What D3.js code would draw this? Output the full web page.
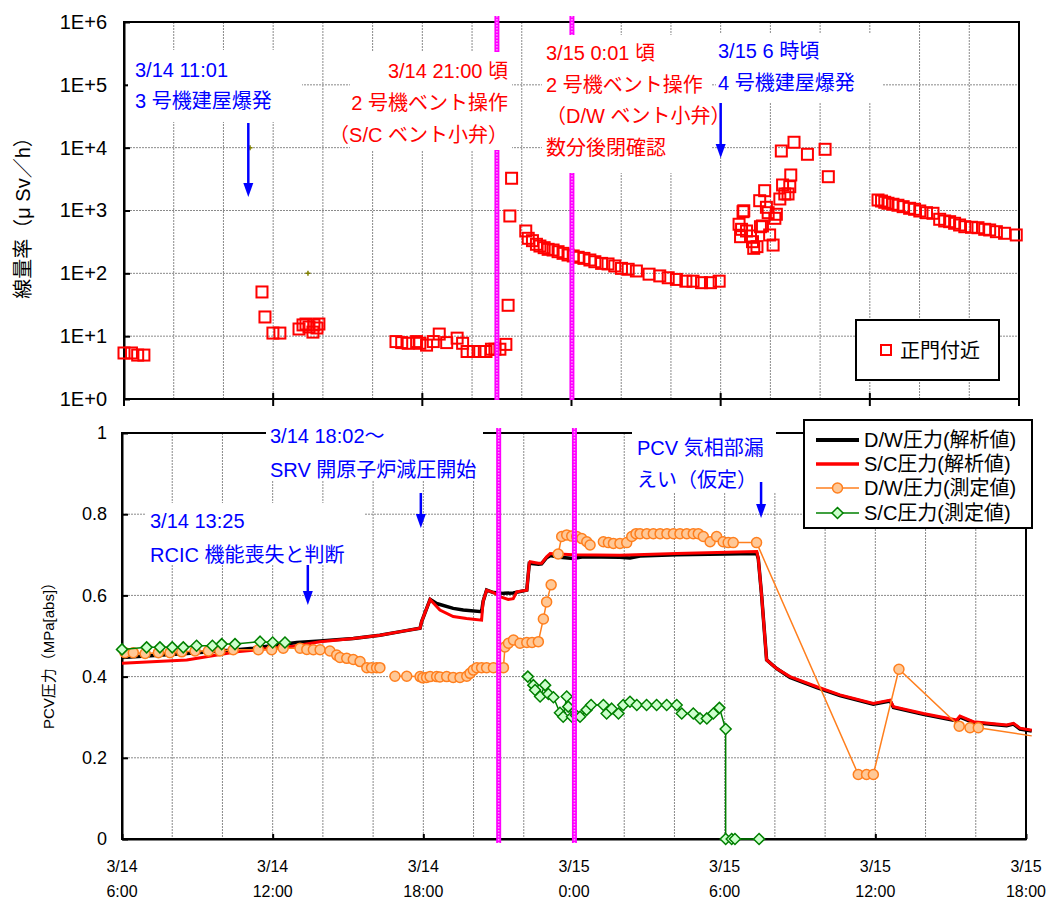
<!DOCTYPE html>
<html><head><meta charset="utf-8">
<script src="https://cdn.jsdelivr.net/npm/d3@7"></script>
<style>body{margin:0;background:#fff}svg{display:block}text{font-family:"Liberation Sans","Noto Sans CJK JP",sans-serif}</style>
</head><body><svg id="c" width="1050" height="900"></svg>
<script>
// ---------- DATA (time = hours since 3/14 0:00) ----------
const tickHours = [6, 12, 18, 24, 30, 36, 42];
const xTickDates = ["3/14", "3/14", "3/14", "3/15", "3/15", "3/15", "3/15"];
const xTickTimes = ["6:00", "12:00", "18:00", "0:00", "6:00", "12:00", "18:00"];
const doseTicks = [1, 10, 100, 1000, 1e4, 1e5, 1e6];
const doseTickLabels = ["1E+0", "1E+1", "1E+2", "1E+3", "1E+4", "1E+5", "1E+6"];
const pressTicks = [0, 0.2, 0.4, 0.6, 0.8, 1];
const pressTickLabels = ["0", "0.2", "0.4", "0.6", "0.8", "1"];

// 正門付近 dose rate (μSv/h)
const doseTimes = [6.0, 6.3, 6.55, 6.8, 11.55, 11.67, 11.99, 12.27,
  13.04, 13.2, 13.32, 13.44, 13.6, 13.64, 13.76, 13.84,
  16.94, 17.17, 17.43, 17.77, 17.9, 18.17, 18.44, 18.68, 18.98, 19.4, 19.62, 19.8, 20.05, 20.31, 20.56, 20.78, 20.92, 21.12, 21.36,
  21.45, 21.52, 21.59,
  22.16, 22.26, 22.43, 22.59, 22.73, 22.9, 23.06, 23.26, 23.46, 23.66, 23.86, 24.07, 24.27, 24.5, 24.74, 24.94, 25.21, 25.47, 25.74, 26.01, 26.28, 26.61, 27.12, 27.55, 27.89, 28.22, 28.6, 28.89, 29.23, 29.59, 29.94,
  30.74, 30.9, 30.93, 30.84, 30.8, 31.04, 31.2, 31.28, 31.33, 31.46, 31.6, 31.68, 31.57, 31.77, 31.84, 31.91, 31.97, 32.11, 32.18, 32.24, 32.38, 32.49, 32.58, 32.71, 32.78, 32.82, 32.44, 32.95, 33.49, 34.2, 34.33,
  36.33, 36.47, 36.6, 36.73, 36.93, 37.13, 37.34, 37.6, 37.8, 38.01, 38.28, 38.54, 38.81, 39.01, 39.21, 39.41, 39.61, 39.82, 40.09, 40.35, 40.62, 40.82, 41.09, 41.42, 41.89];
const doseValues = [5.4, 5.4, 5.0, 5.0, 50.5, 20.2, 11.2, 11.2,
  13.0, 15.1, 15.6, 14.0, 11.6, 15.1, 13.5, 15.6,
  8.2, 7.9, 7.7, 8.2, 7.7, 7.2, 8.2, 10.8, 7.9, 9.3, 7.7, 5.7, 5.7, 5.7, 5.7, 6.2, 6.2, 6.2, 7.4,
  31, 818, 3260,
  472, 361, 331, 290, 272, 256, 241, 235, 221, 208, 196, 189, 180, 173, 163, 153, 144, 141, 131, 120, 116, 109, 97, 91, 85, 80, 75, 75, 71, 71, 75,
  604, 957, 990, 502, 383, 472, 393, 319, 250, 266, 552, 567, 1432, 2066, 1125, 923, 408, 282, 751, 871, 1525, 2547, 1833, 1833, 2393, 3675, 8850, 12190, 7850, 9420, 3450,
  1469, 1416, 1351, 1303, 1257, 1212, 1151, 1084, 1045, 982, 923, 903, 725, 681, 664, 626, 588, 552, 541, 532, 502, 490, 460, 434, 408];
// small extra markers in the upper chart
const otherTimes = [11.07, 13.4];
const otherValues = [1e4, 100];

// D/W 圧力 (解析値)
const dwCalcTimes = [6, 8.58, 10.57, 11.23, 12.96, 13.89, 15.21, 16.27, 17.2, 17.87, 17.93, 18.27, 18.53, 19.19, 19.59, 20.32, 20.38, 20.52, 20.79, 21.19, 21.58, 22.12, 22.22, 22.58, 22.71, 22.91, 23.05, 23.44, 23.97, 24.37, 25.83, 26.23, 26.63, 28.09, 31.28, 31.34, 31.47, 31.67, 32.07, 32.6, 33.67, 34.59, 35.92, 36.59, 36.72, 37.91, 39.24, 39.37, 39.9, 41.23, 41.5, 41.76, 42.23];
const dwCalcValues = [0.447, 0.457, 0.466, 0.47, 0.484, 0.488, 0.494, 0.502, 0.512, 0.519, 0.535, 0.590, 0.580, 0.568, 0.564, 0.560, 0.585, 0.613, 0.607, 0.605, 0.606, 0.613, 0.679, 0.677, 0.678, 0.693, 0.698, 0.694, 0.691, 0.695, 0.694, 0.692, 0.697, 0.700, 0.703, 0.69, 0.601, 0.441, 0.42, 0.398, 0.373, 0.353, 0.332, 0.34, 0.324, 0.307, 0.291, 0.3, 0.287, 0.279, 0.283, 0.271, 0.266];
// S/C 圧力 (解析値)
const scCalcTimes = [6, 8.58, 10.57, 12.82, 13.89, 15.21, 16.27, 17.2, 17.87, 17.93, 18.27, 18.66, 19.19, 19.72, 20.32, 20.38, 20.52, 20.79, 21.05, 21.38, 21.58, 21.72, 22.12, 22.22, 22.25, 22.58, 22.71, 22.91, 23.05, 23.97, 25.83, 28.09, 31.28, 31.34, 31.47, 31.67, 32.07, 32.6, 33.67, 34.59, 35.92, 36.59, 36.72, 37.91, 39.24, 39.37, 39.9, 41.23, 41.5, 41.76, 42.23];
const scCalcValues = [0.433, 0.441, 0.461, 0.475, 0.486, 0.494, 0.502, 0.512, 0.519, 0.535, 0.590, 0.564, 0.548, 0.543, 0.539, 0.585, 0.613, 0.607, 0.597, 0.59, 0.592, 0.609, 0.613, 0.679, 0.683, 0.679, 0.679, 0.695, 0.703, 0.700, 0.699, 0.703, 0.708, 0.69, 0.601, 0.441, 0.42, 0.4, 0.375, 0.355, 0.334, 0.342, 0.326, 0.309, 0.293, 0.303, 0.289, 0.281, 0.285, 0.273, 0.268];
// D/W 圧力 (測定値)  (null = break in line)
const dwMeasTimes = [6.12, 6.45, 6.92, 7.45, 7.91, 8.38, 8.91, 9.44, 9.9, 10.43, 11.43, 11.96, 12.42, 13.09, 13.36, 13.62, 13.89, 14.28, 14.55, 14.68, 14.95, 15.21, 15.48, 15.75, 15.94, 16.14, 16.27, null,
  16.87, 17.34, 17.87, 17.98, 18.13, 18.27, 18.53, 18.66, 18.93, 19.19, 19.46, 19.73, 19.86, 19.99, 20.13, 20.32, 20.52, 20.79, 21.19, 21.25, 21.39, 21.59, 21.85, 22.12, 22.33, 22.58, 22.78, 22.91, 23.09, null,
  23.37, 23.51, 23.71, 23.91, 24.11, 24.31, 24.51, 24.64, null,
  25.17, 25.37, 25.57, 25.83, 26.1, 26.3, 26.47, 26.63, 26.9, 27.16, 27.43, 27.7, 27.96, 28.22, 28.49, 28.75, 28.95, 29.15, 29.42, 29.68, 29.94, 30.14, 30.34, 31.27, 35.32, 35.65, 35.92, 36.94, 39.34, 39.77, 40.1, 42.23];
const dwMeasValues = [0.459, 0.459, 0.457, 0.459, 0.459, 0.461, 0.463, 0.463, 0.463, 0.466, 0.466, 0.466, 0.47, 0.47, 0.467, 0.466, 0.466, 0.463, 0.453, 0.447, 0.445, 0.442, 0.437, 0.422, 0.422, 0.422, 0.422, null,
  0.401, 0.401, 0.4, 0.397, 0.398, 0.400, 0.400, 0.399, 0.400, 0.398, 0.398, 0.401, 0.408, 0.416, 0.422, 0.422, 0.422, 0.422, 0.422, 0.473, 0.482, 0.49, 0.482, 0.484, 0.484, 0.486, 0.542, 0.584, 0.626, null,
  0.702, 0.745, 0.749, 0.746, 0.745, 0.74, 0.732, 0.724, null,
  0.732, 0.73, 0.728, 0.728, 0.73, 0.745, 0.752, 0.752, 0.752, 0.752, 0.752, 0.752, 0.752, 0.752, 0.752, 0.752, 0.752, 0.745, 0.732, 0.745, 0.732, 0.73, 0.73, 0.73, 0.159, 0.159, 0.159, 0.418, 0.278, 0.274, 0.274, 0.254];
// S/C 圧力 (測定値)
const scMeasTimes = [6.0, 6.98, 7.51, 8.0, 8.44, 8.97, 9.6, 9.97, 10.5, 11.5, 12.0, 12.49, null,
  22.16, 22.38, 22.45, 22.65, 22.85, 22.98, 23.18, 23.44, 23.57, 23.71, 23.77, 23.92, 24.08, 24.24, 24.5, 24.68, 25.17, 25.3, 25.5, 25.77, 25.96, 26.23, 26.5, 26.89, 27.29, 27.69, 28.09, 28.29, 28.75, 29.02, 29.29, 29.55, 29.79, 30.04, 30.04, 30.28, 30.41, 31.37];
const scMeasValues = [0.467, 0.472, 0.472, 0.472, 0.472, 0.476, 0.476, 0.480, 0.480, 0.486, 0.484, 0.484, null,
  0.4, 0.379, 0.367, 0.351, 0.379, 0.357, 0.349, 0.311, 0.301, 0.351, 0.326, 0.301, 0.305, 0.301, 0.318, 0.33, 0.33, 0.309, 0.321, 0.309, 0.33, 0.338, 0.33, 0.33, 0.33, 0.33, 0.33, 0.309, 0.309, 0.297, 0.297, 0.309, 0.323, 0.271, 0, 0, 0, 0];

// events
const ventTimes = [21.0, 24.017];
const topArrowTimes = [11.0, 30.0];
const bottomArrowTimes = [17.9, 13.4, 31.45];
const legendNames = ["D/W圧力(解析値)", "S/C圧力(解析値)", "D/W圧力(測定値)", "S/C圧力(測定値)"];

// ---------- DRAW ----------
const svg = d3.select("#c");
const xT = d3.scaleLinear().domain([6, 42]).range([124, 1019]);
const yT = d3.scaleLog().domain([1, 1e6]).range([399, 22]);
const xB = d3.scaleLinear().domain([6, 42]).range([122, 1026]);
const yB = d3.scaleLinear().domain([0, 1]).range([839, 433]);
const zip = (ts, vs) => ts.map((t, i) => ({t, v: vs[i]}));
const GRID = "#8a8a8a", BLUE = "#0000ff", RED = "#ff0000", ORANGE = "#ff7f1e", GREEN = "#008000";

const gridHours = d3.range(8, 42, 2);
function vgrid(x, y0, y1) {
  svg.append("g").selectAll("line").data(gridHours).join("line")
    .attr("x1", d => x(d)).attr("x2", d => x(d)).attr("y1", y0).attr("y2", y1)
    .attr("stroke", GRID).attr("stroke-width", 1).attr("stroke-dasharray", "2,1");
}
vgrid(xT, yT(1e6), yT(1));
vgrid(xB, yB(1), yB(0));
svg.append("g").selectAll("line").data(doseTicks.slice(1, -1)).join("line")
  .attr("x1", xT(6)).attr("x2", xT(42)).attr("y1", d => yT(d)).attr("y2", d => yT(d))
  .attr("stroke", GRID).attr("stroke-dasharray", "2,1");
svg.append("g").selectAll("line").data(pressTicks.slice(1, -1)).join("line")
  .attr("x1", xB(6)).attr("x2", xB(42)).attr("y1", d => yB(d)).attr("y2", d => yB(d))
  .attr("stroke", GRID).attr("stroke-dasharray", "2,1");

// borders
svg.append("rect").attr("x", xT(6)).attr("y", yT(1e6)).attr("width", xT(42) - xT(6)).attr("height", yT(1) - yT(1e6))
  .attr("fill", "none").attr("stroke", "#000").attr("stroke-width", 2);
svg.append("rect").attr("x", xB(6)).attr("y", yB(1)).attr("width", xB(42) - xB(6)).attr("height", yB(0) - yB(1))
  .attr("fill", "none").attr("stroke", "#000").attr("stroke-width", 2);

// top axes
const ayT = svg.append("g").attr("transform", `translate(${xT(6)},0)`)
  .call(d3.axisLeft(yT).tickValues(doseTicks).tickFormat((d, i) => doseTickLabels[i]).tickSizeInner(-6).tickSizeOuter(0).tickPadding(17));
ayT.select(".domain").attr("stroke-width", 2);
ayT.selectAll(".tick line").attr("stroke-width", 2);
ayT.selectAll("text").attr("font-size", 20).attr("fill", "#000").style("font-family", '"Liberation Sans",sans-serif');
svg.append("g").selectAll("line").data(tickHours).join("line")
  .attr("x1", d => xT(d)).attr("x2", d => xT(d)).attr("y1", yT(1) - 6).attr("y2", yT(1) + 7)
  .attr("stroke", "#000").attr("stroke-width", 2);

// bottom axes
const ayB = svg.append("g").attr("transform", `translate(${xB(6)},0)`)
  .call(d3.axisLeft(yB).tickValues(pressTicks).tickFormat((d, i) => pressTickLabels[i]).tickSizeInner(-6).tickSizeOuter(0).tickPadding(15));
ayB.select(".domain").attr("stroke-width", 2);
ayB.selectAll(".tick line").attr("stroke-width", 2);
ayB.selectAll("text").attr("font-size", 18).attr("fill", "#000").style("font-family", '"Liberation Sans",sans-serif');
const axB = svg.append("g").attr("transform", `translate(0,${yB(0)})`)
  .call(d3.axisBottom(xB).tickValues(tickHours).tickFormat("").tickSizeInner(-5).tickSizeOuter(0));
axB.select(".domain").attr("stroke-width", 2);
axB.selectAll(".tick line").attr("stroke-width", 2);
const xl = svg.append("g").selectAll("g").data(tickHours).join("g");
xl.append("text").attr("x", d => xB(d)).attr("y", 872).attr("text-anchor", "middle").attr("font-size", 16).text((d, i) => xTickDates[i]);
xl.append("text").attr("x", d => xB(d)).attr("y", 897).attr("text-anchor", "middle").attr("font-size", 16).text((d, i) => xTickTimes[i]);

// axis titles
svg.append("text").attr("transform", "translate(30,213) rotate(-90)").attr("text-anchor", "middle")
  .attr("font-size", 20).attr("fill", "#000").text("線量率（μ Sv／h）");
svg.append("text").attr("transform", "translate(54,652) rotate(-90)").attr("text-anchor", "middle")
  .attr("font-size", 15).attr("fill", "#000").text("PCV圧力（MPa[abs]）");

// ----- bottom data -----
const lineB = d3.line().defined(d => d.t != null && d.v != null).x(d => xB(d.t)).y(d => yB(d.v));
svg.append("path").datum(zip(dwCalcTimes, dwCalcValues)).attr("d", lineB)
  .attr("fill", "none").attr("stroke", "#000").attr("stroke-width", 3.5);
svg.append("path").datum(zip(scCalcTimes, scCalcValues)).attr("d", lineB)
  .attr("fill", "none").attr("stroke", RED).attr("stroke-width", 3);
const dwM = zip(dwMeasTimes, dwMeasValues);
svg.append("path").datum(dwM).attr("d", lineB).attr("fill", "none").attr("stroke", ORANGE).attr("stroke-width", 1.5);
svg.append("g").selectAll("circle").data(dwM.filter(d => d.t != null && d.t <= 42)).join("circle")
  .attr("cx", d => xB(d.t)).attr("cy", d => yB(d.v)).attr("r", 5)
  .attr("fill", "#ffc896").attr("stroke", ORANGE).attr("stroke-width", 1.5);
const scM = zip(scMeasTimes, scMeasValues);
svg.append("path").datum(scM).attr("d", lineB).attr("fill", "none").attr("stroke", GREEN).attr("stroke-width", 1.5);
const diamond = "M0,-5.5L5.5,0L0,5.5L-5.5,0Z";
svg.append("g").selectAll("path").data(scM.filter(d => d.t != null)).join("path")
  .attr("d", diamond).attr("transform", d => `translate(${xB(d.t)},${yB(d.v)})`)
  .attr("fill", "#ccffcc").attr("stroke", GREEN).attr("stroke-width", 1.5);

// ----- top data -----
svg.append("g").selectAll("rect").data(zip(doseTimes, doseValues)).join("rect")
  .attr("x", d => xT(d.t) - 5.5).attr("y", d => yT(d.v) - 5.5).attr("width", 11).attr("height", 11)
  .attr("fill", "none").attr("stroke", RED).attr("stroke-width", 2);
svg.append("g").selectAll("path").data(zip(otherTimes, otherValues)).join("path")
  .attr("d", "M-2.5,0H2.5M0,-2.5V2.5").attr("transform", d => `translate(${xT(d.t)},${yT(d.v)})`)
  .attr("stroke", "#808000").attr("stroke-width", 1.5);

// ----- vent lines -----
function vent(x, y0, y1) {
  const g = svg.append("g");
  g.selectAll("line.a").data(ventTimes).join("line").attr("class", "a")
    .attr("x1", d => x(d)).attr("x2", d => x(d)).attr("y1", y0).attr("y2", y1)
    .attr("stroke", "#ff00ff").attr("stroke-width", 5);
  g.selectAll("line.b").data(ventTimes).join("line").attr("class", "b")
    .attr("x1", d => x(d)).attr("x2", d => x(d)).attr("y1", y0).attr("y2", y1)
    .attr("stroke", "#ff9cff").attr("stroke-width", 1.5).attr("stroke-dasharray", "1.5,1.5");
}
vent(xT, 16, 400);
vent(xB, 428, 843);

// ----- annotation boxes -----
function note(bx, by, bw, bh, x, ys, lines, color, anchor) {
  svg.append("rect").attr("x", bx).attr("y", by).attr("width", bw).attr("height", bh).attr("fill", "#fff");
  lines.forEach((s, i) => svg.append("text").attr("x", x).attr("y", ys[i]).attr("text-anchor", anchor || "start")
    .attr("font-size", 20).attr("fill", color).text(s));
}
note(128, 50, 174, 72, 135, [77, 108], ["3/14 11:01", "3 号機建屋爆発"], BLUE);
note(350, 52, 162, 98, 508, [78, 110, 142], ["3/14 21:00 頃", "2 号機ベント操作", "（S/C ベント小弁）"], RED, "end");
note(542, 35, 169, 138, 546, [60, 92, 123, 155], ["3/15 0:01 頃", "2 号機ベント操作", "（D/W ベント小弁）", "数分後閉確認"], RED);
note(716, 33, 167, 70, 718, [58, 90], ["3/15 6 時頃", "4 号機建屋爆発"], BLUE);
note(266, 425, 217, 55, 270, [443, 477], ["3/14 18:02～", "SRV 開原子炉減圧開始"], BLUE);
note(146, 503, 219, 62, 150, [528, 562], ["3/14 13:25", "RCIC 機能喪失と判断"], BLUE);
note(632, 425, 144, 68, 637, [455, 487], ["PCV  気相部漏", "えい（仮定）"], BLUE);

// ----- arrows -----
function arrow(x, y0, y1) {
  svg.append("line").attr("x1", x).attr("x2", x).attr("y1", y0).attr("y2", y1 - 10)
    .attr("stroke", BLUE).attr("stroke-width", 2.5);
  svg.append("path").attr("d", `M${x - 5},${y1 - 14}L${x + 5},${y1 - 14}L${x},${y1}Z`).attr("fill", BLUE);
}
arrow(xT(topArrowTimes[0]), 123, 197);
arrow(xT(topArrowTimes[1]), 103, 158);
arrow(xB(bottomArrowTimes[0]), 493, 528);
arrow(xB(bottomArrowTimes[1]), 565, 605);
arrow(xB(bottomArrowTimes[2]), 482, 518);

// ----- legends -----
svg.append("rect").attr("x", 856).attr("y", 320).attr("width", 143).attr("height", 60)
  .attr("fill", "#fff").attr("stroke", "#000").attr("stroke-width", 2);
svg.append("rect").attr("x", 881).attr("y", 345).attr("width", 10).attr("height", 10)
  .attr("fill", "none").attr("stroke", RED).attr("stroke-width", 2);
svg.append("text").attr("x", 900).attr("y", 358).attr("font-size", 20).attr("fill", "#000").text("正門付近");

svg.append("rect").attr("x", 804).attr("y", 420).attr("width", 228).attr("height", 108)
  .attr("fill", "#fff").attr("stroke", "#000").attr("stroke-width", 2);
const rowY = [440, 464, 488, 513];
const lStroke = ["#000", RED, ORANGE, GREEN], lWidth = [4, 3.5, 1.5, 1.5];
legendNames.forEach((n, i) => {
  svg.append("line").attr("x1", 816).attr("x2", 859).attr("y1", rowY[i]).attr("y2", rowY[i])
    .attr("stroke", lStroke[i]).attr("stroke-width", lWidth[i]);
  svg.append("text").attr("x", 864).attr("y", rowY[i] + 7).attr("font-size", 20).attr("fill", "#000").text(n);
});
svg.append("circle").attr("cx", 837.5).attr("cy", rowY[2]).attr("r", 5).attr("fill", "#ffc896").attr("stroke", ORANGE).attr("stroke-width", 1.5);
svg.append("path").attr("d", diamond).attr("transform", `translate(837.5,${rowY[3]})`).attr("fill", "#ccffcc").attr("stroke", GREEN).attr("stroke-width", 1.5);
</script></body></html>
